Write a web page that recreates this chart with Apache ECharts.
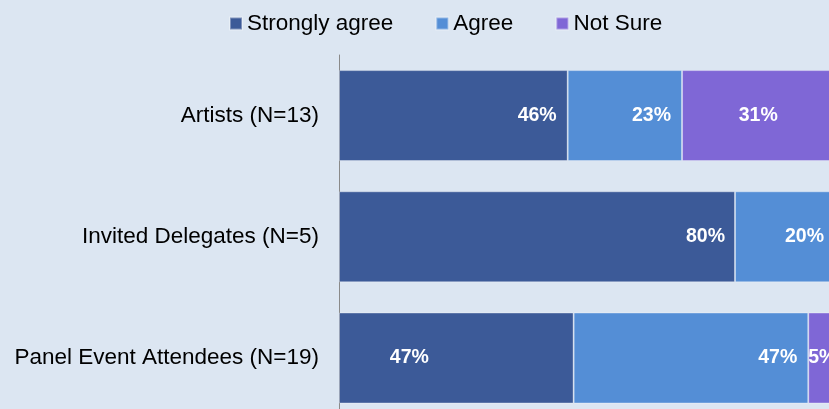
<!DOCTYPE html>
<html>
<head>
<meta charset="utf-8">
<script src="https://cdn.jsdelivr.net/npm/echarts@6/dist/echarts.min.js"></script>
<style>
  html, body { margin: 0; padding: 0; background: #dce6f2; overflow: hidden; }
  /* the plot runs past the right and bottom edges of the window */
  #chart { width: 860px; height: 440px; }
</style>
</head>
<body>
<div id="chart"></div>
<script>
// Survey groups, top to bottom
const categories = ['Artists (N=13)', 'Invited Delegates (N=5)', 'Panel Event Attendees (N=19)'];

// Share of respondents per answer (%)
const stronglyAgree = [46.2, 80.0, 47.4];
const agree         = [23.1, 20.0, 47.4];
const notSure       = [30.8, 0.0, 5.3];

const seriesNames = ['Strongly agree', 'Agree', 'Not Sure'];
const colors = ['#3c5a98', '#548ed6', '#7f67d6'];

const FONT = '"Liberation Sans", Arial, sans-serif';

const baseLabel = {
  show: true,
  position: 'insideRight',
  distance: 11,
  color: '#ffffff',
  fontFamily: FONT,
  fontWeight: 'bold',
  fontSize: 19.5,
  formatter: p => (p.value > 0 ? Math.round(p.value) + '%' : '')
};

function makeData(values, labelOverrides) {
  return values.map((v, i) => {
    const item = { value: v };
    if (labelOverrides && labelOverrides[i]) item.label = labelOverrides[i];
    return item;
  });
}

const barStyle = (c) => ({
  color: c,
  borderColor: 'rgba(255,255,255,0.35)',
  borderWidth: 1
});

const chart = echarts.init(document.getElementById('chart'), null, { renderer: 'canvas' });

chart.setOption({
  backgroundColor: '#dce6f2',
  animation: false,
  legend: {
    left: 224,
    top: 7,
    itemWidth: 12,
    itemHeight: 12,
    itemGap: 42,
    icon: 'rect',
    textStyle: { fontFamily: FONT, fontSize: 22.5, color: '#000', lineHeight: 22 },
    data: seriesNames
  },
  grid: {
    left: 339,
    top: 55,
    width: 495,
    height: 363.6
  },
  xAxis: {
    type: 'value',
    min: 0,
    max: 100,
    show: false
  },
  yAxis: {
    type: 'category',
    inverse: true,
    data: categories,
    axisLine: { show: true, lineStyle: { color: '#8a8a8a', width: 1 } },
    axisTick: { show: false },
    axisLabel: { fontFamily: FONT, fontSize: 22.5, color: '#000', margin: 20 }
  },
  series: [
    {
      name: seriesNames[0],
      type: 'bar',
      stack: 'total',
      barWidth: 91,
      itemStyle: barStyle(colors[0]),
      label: baseLabel,
      data: makeData(stronglyAgree, {
        1: { distance: 10 },
        2: { position: ['30%', '50%'], align: 'center', verticalAlign: 'middle' }
      })
    },
    {
      name: seriesNames[1],
      type: 'bar',
      stack: 'total',
      barWidth: 91,
      itemStyle: barStyle(colors[1]),
      label: baseLabel,
      data: makeData(agree, { 1: { distance: 10 } })
    },
    {
      name: seriesNames[2],
      type: 'bar',
      stack: 'total',
      barWidth: 91,
      itemStyle: barStyle(colors[2]),
      label: baseLabel,
      data: makeData(notSure, {
        0: { position: 'inside' },
        2: { position: 'insideLeft', distance: 0 }
      })
    }
  ]
});
</script>
</body>
</html>
